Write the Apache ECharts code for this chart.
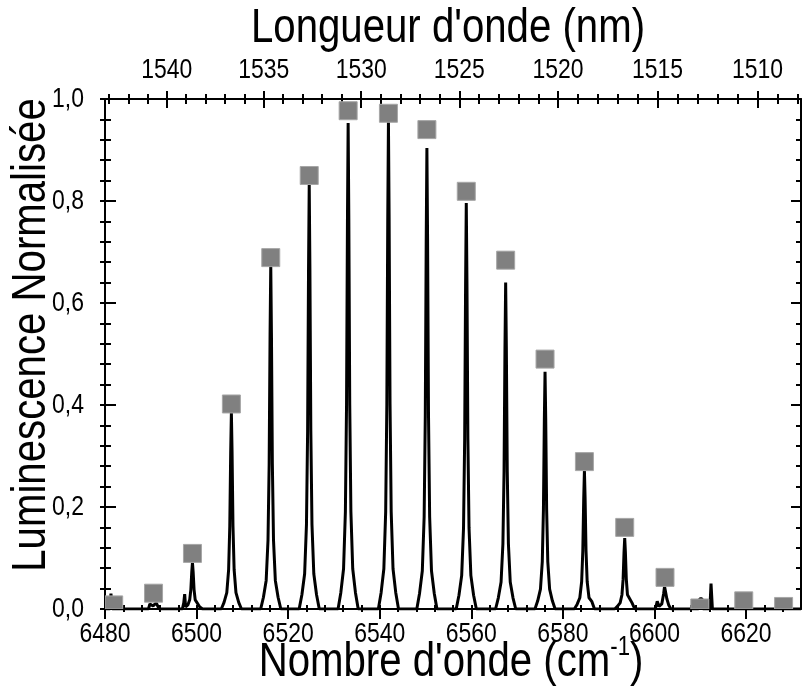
<!DOCTYPE html>
<html>
<head>
<meta charset="utf-8">
<script src="https://cdn.jsdelivr.net/npm/echarts@6/dist/echarts.min.js"></script>
<style>
  html, body { margin: 0; padding: 0; background: #fff; }
  #chart { width: 806px; height: 692px; }
</style>
</head>
<body>
<div id="chart"></div>
<script>
var FONT = "'Liberation Sans', Arial, sans-serif";
var NARROW = 0.82; // horizontal squeeze, the original uses a narrow sans

// bottom axis : nombre d'onde (cm-1)
var bottomMajor = [6480, 6500, 6520, 6540, 6560, 6580, 6600, 6620];
// top axis : longueur d'onde (nm)
var topMajorNm = [1540, 1535, 1530, 1525, 1520, 1515, 1510];
// left axis
var yMajor = [0, 0.2, 0.4, 0.6, 0.8, 1.0];

// squares (grey points)
var pointX = [6481.9, 6490.6, 6499.1, 6507.6, 6516.2, 6524.6, 6533.1, 6541.9, 6550.3,
              6558.9, 6567.5, 6576.1, 6584.7, 6593.5, 6602.3, 6609.9, 6619.5, 6628.2];
var pointY = [0.008, 0.031, 0.109, 0.402, 0.689, 0.850, 0.977, 0.972, 0.940,
              0.819, 0.684, 0.490, 0.289, 0.160, 0.062, 0.002, 0.016, 0.005];

// luminescence spectrum (black line)
var spectrum = [
  [6480, 0], [6481.1, 0], [6481.3, 0.03], [6481.6, 0], [6489.5, 0], [6489.8, 0.01], [6490.5, 0.006],
  [6491.2, 0.012], [6491.8, 0],
  [6496.9, 0], [6497.2, 0.012], [6497.4, 0.029], [6497.6, 0.004], [6498.1, 0.008], [6498.5, 0.018],
  [6498.75, 0.038], [6498.95, 0.073], [6499.1, 0.091], [6499.25, 0.073], [6499.45, 0.038],
  [6499.7, 0.018], [6500.1, 0.02], [6500.7, 0.004], [6501.3, 0],
  [6505.4, 0], [6506.0, 0.013], [6506.6, 0.032], [6507.0, 0.077], [6507.25, 0.162], [6507.45, 0.308],
  [6507.6, 0.385], [6507.75, 0.308], [6507.95, 0.162], [6508.2, 0.077], [6508.6, 0.032],
  [6509.2, 0.013], [6509.8, 0],
  [6514.0, 0], [6514.6, 0.023], [6515.2, 0.056], [6515.6, 0.135], [6515.85, 0.284], [6516.05, 0.54],
  [6516.2, 0.675], [6516.35, 0.54], [6516.55, 0.284], [6516.8, 0.135], [6517.2, 0.056],
  [6517.8, 0.023], [6518.4, 0],
  [6522.4, 0], [6523.0, 0.028], [6523.6, 0.069], [6524.0, 0.166], [6524.25, 0.349], [6524.45, 0.666],
  [6524.6, 0.832], [6524.75, 0.666], [6524.95, 0.349], [6525.2, 0.166], [6525.6, 0.069],
  [6526.2, 0.028], [6526.8, 0],
  [6530.9, 0], [6531.5, 0.032], [6532.1, 0.079], [6532.5, 0.191], [6532.75, 0.4], [6532.95, 0.762],
  [6533.1, 0.953], [6533.25, 0.762], [6533.45, 0.4], [6533.7, 0.191], [6534.1, 0.079],
  [6534.7, 0.032], [6535.3, 0],
  [6539.7, 0], [6540.3, 0.032], [6540.9, 0.079], [6541.3, 0.191], [6541.55, 0.401], [6541.75, 0.764],
  [6541.9, 0.955], [6542.05, 0.764], [6542.25, 0.401], [6542.5, 0.191], [6542.9, 0.079],
  [6543.5, 0.032], [6544.1, 0],
  [6548.1, 0], [6548.7, 0.031], [6549.3, 0.075], [6549.7, 0.181], [6549.95, 0.38], [6550.15, 0.723],
  [6550.3, 0.904], [6550.45, 0.723], [6550.65, 0.38], [6550.9, 0.181], [6551.3, 0.075],
  [6551.9, 0.031], [6552.5, 0],
  [6556.7, 0], [6557.3, 0.027], [6557.9, 0.066], [6558.3, 0.159], [6558.55, 0.334], [6558.75, 0.637],
  [6558.9, 0.796], [6559.05, 0.637], [6559.25, 0.334], [6559.5, 0.159], [6559.9, 0.066],
  [6560.5, 0.027], [6561.1, 0],
  [6565.3, 0], [6565.9, 0.022], [6566.5, 0.053], [6566.9, 0.128], [6567.15, 0.269], [6567.35, 0.512],
  [6567.5, 0.64], [6567.65, 0.512], [6567.85, 0.269], [6568.1, 0.128], [6568.5, 0.053],
  [6569.1, 0.022], [6569.7, 0],
  [6573.9, 0], [6574.5, 0.016], [6575.1, 0.039], [6575.5, 0.093], [6575.75, 0.195], [6575.95, 0.372],
  [6576.1, 0.465], [6576.25, 0.372], [6576.45, 0.195], [6576.7, 0.093], [6577.1, 0.039],
  [6577.7, 0.016], [6578.3, 0],
  [6582.5, 0], [6583.1, 0.009], [6583.7, 0.022], [6584.1, 0.054], [6584.35, 0.114], [6584.55, 0.217],
  [6584.7, 0.271], [6584.85, 0.217], [6585.05, 0.114], [6585.3, 0.054], [6585.7, 0.022],
  [6586.3, 0.015], [6586.9, 0],
  [6591.3, 0], [6591.9, 0.005], [6592.5, 0.012], [6592.9, 0.028], [6593.15, 0.058], [6593.35, 0.111],
  [6593.5, 0.139], [6593.65, 0.111], [6593.85, 0.058], [6594.1, 0.028], [6594.5, 0.03],
  [6595.1, 0.012], [6595.7, 0],
  [6600.2, 0], [6600.6, 0.015], [6601.0, 0.005], [6601.6, 0.01], [6602.0, 0.03], [6602.2, 0.044],
  [6602.45, 0.044], [6602.7, 0.02], [6603.1, 0.008], [6603.6, 0],
  [6609.6, 0], [6609.9, 0.02], [6610.4, 0.02], [6610.6, 0],
  [6612.1, 0], [6612.35, 0.05], [6612.5, 0.05], [6612.65, 0],
  [6632, 0]
];

// minor tick positions
var bottomMinor = [];
for (var v = 6484; v < 6632; v += 4) {
  if (v % 20 !== 0) bottomMinor.push(v);
}
var topMajor = topMajorNm.map(function (nm) { return 1e7 / nm; });
var topMinor = [];
for (var nm = 1508; nm <= 1543; nm++) {
  if (nm % 5 !== 0) topMinor.push(1e7 / nm);
}

var black = { color: '#000', width: 2 };

function xAx(position, ticks, len, inside, showLine) {
  return {
    type: 'value', position: position, min: 6480, max: 6632,
    axisLine: { show: !!showLine, onZero: false, lineStyle: black },
    axisTick: { show: true, inside: inside, length: len, customValues: ticks, lineStyle: black },
    axisLabel: { show: false },
    splitLine: { show: false }
  };
}
function yAx(position, len, minorLen, inside, showLine) {
  return {
    type: 'value', position: position, min: 0, max: 1, interval: 0.2,
    axisLine: { show: !!showLine, onZero: false, lineStyle: black },
    axisTick: { show: true, inside: inside, length: len, lineStyle: black },
    minorTick: { show: true, splitNumber: 5, length: minorLen, lineStyle: black },
    axisLabel: { show: false },
    splitLine: { show: false }
  };
}

var myChart = echarts.init(document.getElementById('chart'));
myChart.setOption({
  animation: false,
  backgroundColor: '#fff',
  grid: { left: 105, right: 5, top: 99, bottom: 83, outerBoundsMode: 'none' },
  xAxis: [
    xAx('bottom', bottomMajor, 10, false, true),
    xAx('bottom', bottomMinor, 3, false),
    xAx('bottom', bottomMajor.concat(bottomMinor), 4, true),
    xAx('top', topMajor, 8, false, true),
    xAx('top', topMajor, 9, true),
    xAx('top', topMinor, 5, false),
    xAx('top', topMinor, 5, true)
  ],
  yAxis: [
    yAx('left', 5, 5, false, true),
    yAx('left', 11, 6, true),
    yAx('right', 10, 5, true, true)
  ],
  series: [
    {
      type: 'line',
      xAxisIndex: 0, yAxisIndex: 0,
      data: spectrum,
      symbol: 'none',
      lineStyle: { color: '#000', width: 3 },
      z: 2
    },
    {
      type: 'custom',
      xAxisIndex: 0, yAxisIndex: 0,
      data: pointX.map(function (x, i) { return [x, pointY[i]]; }),
      clip: true,
      z: 3,
      renderItem: function (params, api) {
        var p = api.coord([api.value(0), api.value(1)]);
        var s = 18;
        var rect = echarts.graphic.clipRectByRect(
          { x: p[0] - s / 2, y: p[1] - s / 2, width: s, height: s },
          { x: params.coordSys.x, y: params.coordSys.y, width: params.coordSys.width, height: params.coordSys.height }
        );
        if (!rect) return;
        return { type: 'rect', shape: rect, style: { fill: '#808080', stroke: '#a6a6a6', lineWidth: 1 } };
      }
    }
  ]
});

// texts are drawn as graphic elements so they can be squeezed like the narrow original font
function label(x, y, text, size, align, extra) {
  var t = {
    type: 'text', x: x, y: y, scaleX: NARROW, silent: true, z: 10,
    style: { text: text, fontSize: size, fontFamily: FONT, fill: '#000', align: align || 'center', verticalAlign: 'middle' }
  };
  return Object.assign(t, extra || {});
}

var xLeft = myChart.convertToPixel({ xAxisIndex: 0 }, 6480);
var xRight = myChart.convertToPixel({ xAxisIndex: 0 }, 6632);
var yBottom = myChart.convertToPixel({ yAxisIndex: 0 }, 0);
var yTop = myChart.convertToPixel({ yAxisIndex: 0 }, 1);
var xMid = (xLeft + xRight) / 2;

var texts = [];
bottomMajor.forEach(function (val) {
  texts.push(label(myChart.convertToPixel({ xAxisIndex: 0 }, val), yBottom + 25, String(val), 28));
});
topMajorNm.forEach(function (nmv) {
  texts.push(label(myChart.convertToPixel({ xAxisIndex: 3 }, 1e7 / nmv), yTop - 29, String(nmv), 28));
});
yMajor.forEach(function (val) {
  texts.push(label(xLeft - 21, myChart.convertToPixel({ yAxisIndex: 0 }, val), val.toFixed(1).replace('.', ','), 28, 'right'));
});
texts.push(label(xMid - 5, 28, "Longueur d'onde (nm)", 49));
texts.push(label(31, (yTop + yBottom) / 2 - 19, 'Luminescence Normalisée', 49, 'center', { rotation: Math.PI / 2 }));
texts.push({
  type: 'text', x: xMid - 2, y: 662, scaleX: NARROW, silent: true, z: 10,
  style: {
    text: "{a|Nombre d'onde (cm}{s|-1}{a|)}",
    fontSize: 49, fontFamily: FONT, fill: '#000', align: 'center', verticalAlign: 'middle',
    rich: {
      a: { fontSize: 49, fontFamily: FONT, fill: '#000', lineHeight: 56 },
      s: { fontSize: 27, fontFamily: FONT, fill: '#000', lineHeight: 27, verticalAlign: 'top' }
    }
  }
});

myChart.setOption({ graphic: texts });
</script>
</body>
</html>
